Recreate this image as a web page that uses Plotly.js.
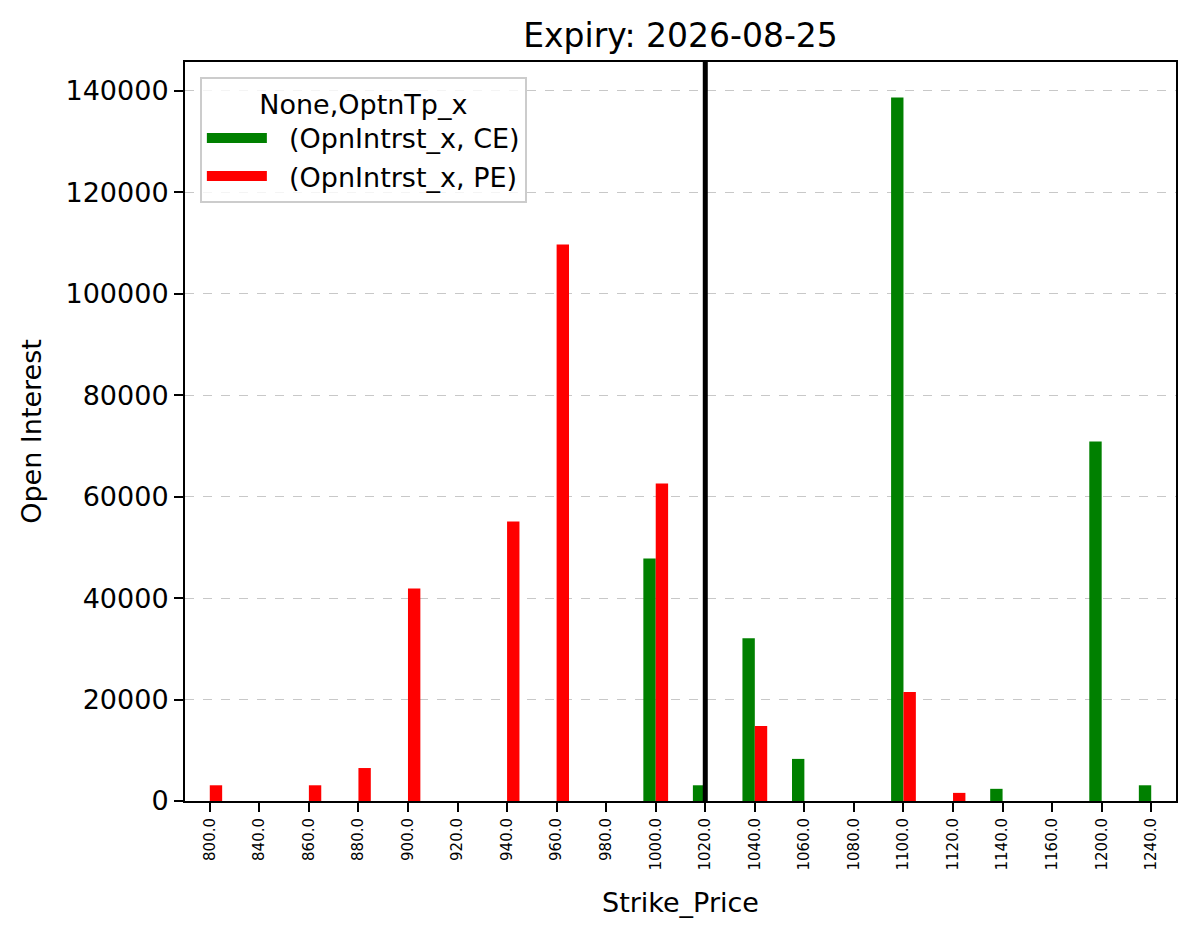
<!DOCTYPE html>
<html>
<head>
<meta charset="utf-8">
<script src="https://cdn.plot.ly/plotly-3.0.1.min.js"></script>
<style>html,body{margin:0;padding:0;background:#fff;}#chart{width:1196px;height:939px;}</style>
</head>
<body>
<div id="chart"></div>
<script>
const strikes = ["800.0","840.0","860.0","880.0","900.0","920.0","940.0","960.0","980.0","1000.0","1020.0","1040.0","1060.0","1080.0","1100.0","1120.0","1140.0","1160.0","1200.0","1240.0"];
const ceOI = [0,0,0,0,0,0,0,0,0,47800,3100,32100,8300,0,138700,0,2400,0,70900,3100];
const peOI = [3100,0,3100,6500,41900,0,55100,109700,0,62600,0,14800,0,0,21500,1600,0,0,0,0];
const spotStrike = "1020.0";
const yTicks = [0,20000,40000,60000,80000,100000,120000,140000];
const seriesNames = ["  (OpnIntrst_x, CE)", "  (OpnIntrst_x, PE)"];
const seriesColors = ["#008000", "#ff0000"];

const font = "DejaVu Sans, sans-serif";
const traces = [
  {type:"bar", x:strikes, y:ceOI, name:seriesNames[0], marker:{color:seriesColors[0]}, showlegend:false, legendgroup:"ce"},
  {type:"bar", x:strikes, y:peOI, name:seriesNames[1], marker:{color:seriesColors[1]}, showlegend:false, legendgroup:"pe"},
  {type:"scatter", mode:"lines", x:[null], y:[null], name:seriesNames[0], line:{color:seriesColors[0], width:18}, legendgroup:"ce", hoverinfo:"skip"},
  {type:"scatter", mode:"lines", x:[null], y:[null], name:seriesNames[1], line:{color:seriesColors[1], width:18}, legendgroup:"pe", hoverinfo:"skip"}
];
const spotIdx = strikes.indexOf(spotStrike);
const layout = {
  width:1196, height:939,
  margin:{l:185, r:20, t:62, b:138},
  paper_bgcolor:"#fff", plot_bgcolor:"#fff",
  font:{family:font, color:"#000", size:27},
  title:{text:"Expiry: 2026-08-25", font:{size:33, family:font}, x:0.5, xref:"paper", xanchor:"center",
         yref:"container", y:1-35/939, yanchor:"middle"},
  barmode:"group", bargap:0.5, bargroupgap:0,
  showlegend:true,
  legend:{x:0.015, y:0.98, xanchor:"left", yanchor:"top", bgcolor:"rgba(255,255,255,0.8)",
          bordercolor:"#cccccc", borderwidth:2, font:{size:27, family:font},
          itemwidth:60, tracegroupgap:7,
          title:{text:"None,OptnTp_x", side:"top center", font:{size:27, family:font}}, traceorder:"normal"},
  xaxis:{type:"category", categoryorder:"array", categoryarray:strikes,
         range:[-0.5, strikes.length-0.5],
         title:{text:"Strike_Price", font:{size:27, family:font}, standoff:24},
         tickangle:-90, tickfont:{size:15, family:font},
         ticks:"outside", ticklen:9, tickwidth:2, tickcolor:"#000",
         showline:true, linecolor:"#000", linewidth:2, mirror:true, showgrid:false, zeroline:false},
  yaxis:{range:[0, 145700], tickvals:yTicks, ticktext:yTicks.map(String),
         title:{text:"Open Interest", font:{size:27, family:font}, standoff:16},
         tickfont:{size:27, family:font},
         ticks:"outside", ticklen:9, tickwidth:2, tickcolor:"#000",
         showline:true, linecolor:"#000", linewidth:2, mirror:true,
         showgrid:true, gridcolor:"#c8c8c8", griddash:"dash", gridwidth:1.3, zeroline:false},
  shapes:[{type:"line", xref:"x", yref:"paper", x0:spotIdx, x1:spotIdx, y0:0, y1:1,
           line:{color:"#000", width:5}}]
};
Plotly.newPlot("chart", traces, layout, {displayModeBar:false});
</script>
</body>
</html>
